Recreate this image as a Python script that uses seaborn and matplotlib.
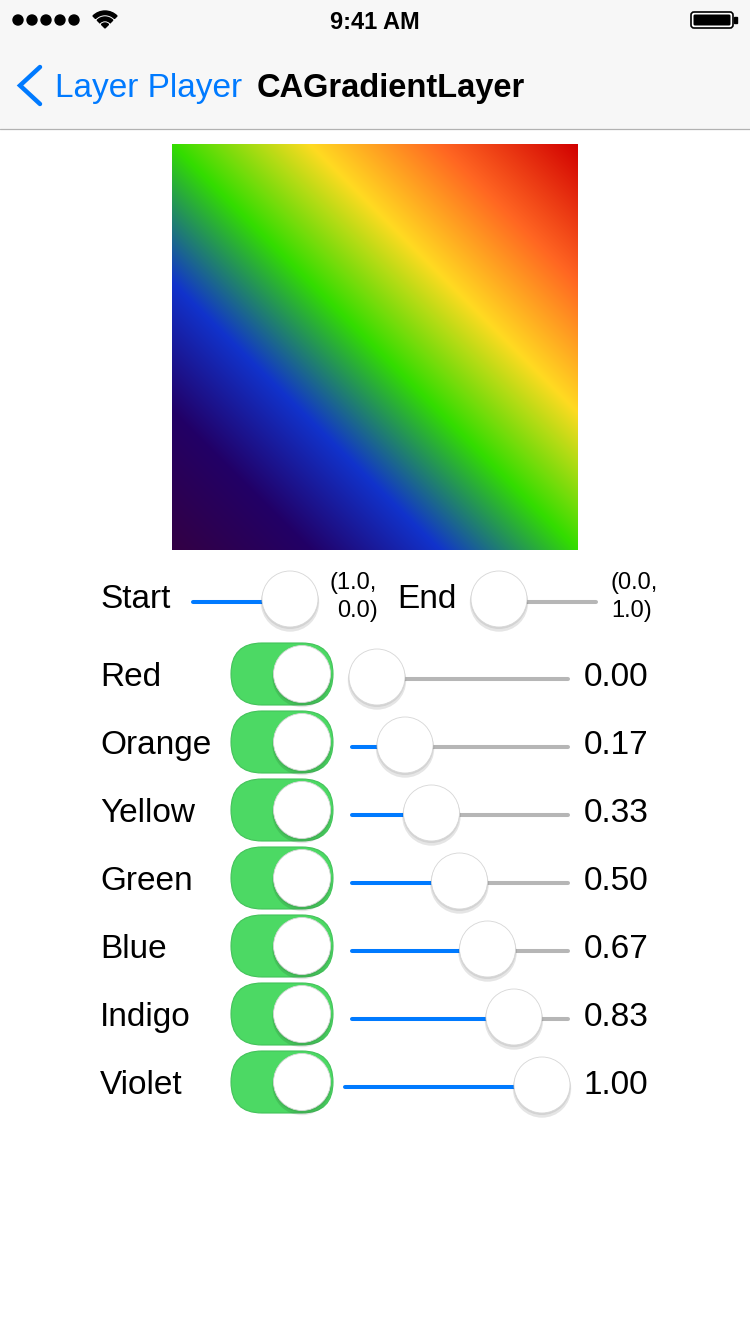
import numpy as np
import pandas as pd
import matplotlib
matplotlib.use("Agg")
import matplotlib.pyplot as plt
import seaborn as sns
from matplotlib.patches import Circle, FancyBboxPatch, Wedge, Rectangle

# datos de la pantalla
color_names = ["Red", "Orange", "Yellow", "Green", "Blue", "Indigo", "Violet"]
color_rgb = [(209, 0, 0), (255, 102, 34), (255, 218, 33), (51, 221, 0),
             (17, 51, 204), (34, 0, 102), (51, 0, 68)]
locations = [0.00, 0.17, 0.33, 0.50, 0.67, 0.83, 1.00]
enabled = [True, True, True, True, True, True, True]
start_point = (1.0, 0.0)
end_point = (0.0, 1.0)
start_slider = 1.0
end_slider = 0.0

BLUE = "#007AFF"
GRAY = "#B6B6B6"
GREEN = "#4CD964"
FONT = ["Liberation Sans", "DejaVu Sans"]

sns.set_style("white")
plt.rcParams["font.family"] = FONT
plt.rcParams["text.color"] = "black"

fig = plt.figure(figsize=(7.5, 13.34), dpi=100)
ax = fig.add_axes([0, 0, 1, 1])
ax.set_xlim(0, 750)
ax.set_ylim(1334, 0)
ax.axis("off")

# barra de estado y navegacion
ax.add_patch(Rectangle((0, 0), 750, 128, color="#F7F7F7", zorder=0))
ax.plot([0, 750], [128.5, 128.5], color="#B2B2B2", lw=0.9)
for i in range(5):
    ax.add_patch(Circle((18 + 14 * i, 20), 5.0, color="black"))
ax.add_patch(Wedge((105, 28), 17, 225, 315, width=3.6, color="black"))
ax.add_patch(Wedge((105, 28), 11, 225, 315, width=3.6, color="black"))
ax.add_patch(Wedge((105, 28), 5, 225, 315, color="black"))
ax.text(375, 20, "9:41 AM", fontsize=17, fontweight="semibold", ha="center", va="center_baseline")
ax.add_patch(FancyBboxPatch((691, 12), 42, 16, boxstyle="round,pad=0,rounding_size=3",
                            fc="white", ec="black", lw=1.2))
ax.add_patch(FancyBboxPatch((693.5, 14.5), 37, 11, boxstyle="round,pad=0,rounding_size=1.5",
                            fc="black", ec="none"))
ax.add_patch(Rectangle((734, 17), 3, 6, color="black"))

ax.plot([40, 20, 40], [67, 85.5, 104], color=BLUE, lw=3.2, solid_capstyle="round",
        solid_joinstyle="miter")
ax.text(55, 97, "Layer Player", fontsize=24, color=BLUE, ha="left", va="baseline")
ax.text(257, 97, "CAGradientLayer", fontsize=23.5, fontweight="bold", ha="left", va="baseline")

# capa de gradiente
n = 406
u, v = np.meshgrid(np.linspace(0, 1, n), np.linspace(0, 1, n))
d = np.array(end_point) - np.array(start_point)
t = ((u - start_point[0]) * d[0] + (v - start_point[1]) * d[1]) / (d @ d)
t = np.clip(t, 0, 1)
cols = np.array(color_rgb) / 255.0
img = np.dstack([np.interp(t, locations, cols[:, k]) for k in range(3)])
ax.imshow(img, extent=(172, 578, 550, 144), aspect="auto", interpolation="bilinear", zorder=1)
ax.set_xlim(0, 750)
ax.set_ylim(1334, 0)


def knob(x, y, r=28):
    ax.add_patch(Circle((x, y + 3.5), r + 1.2, color="black", alpha=0.10, lw=0, zorder=5))
    ax.add_patch(Circle((x, y + 1.5), r + 0.5, color="black", alpha=0.08, lw=0, zorder=5))
    ax.add_patch(Circle((x, y), r, fc="white", ec="#D6D6D6", lw=0.6, zorder=6))


def track(x0, x1, y, kx):
    df = pd.DataFrame({"x": [x0, kx, kx, x1], "y": [y] * 4, "p": ["a", "a", "b", "b"]})
    sns.lineplot(data=df, x="x", y="y", hue="p", palette={"a": BLUE, "b": GRAY},
                 lw=2.9, legend=False, ax=ax, zorder=3, estimator=None, sort=False)


# puntos inicio / fin
ax.text(100, 608, "Start", fontsize=24, ha="left", va="baseline")
sx = 218 + start_slider * 72
track(193, 315, 602, sx)
knob(sx, 599)
ax.text(377, 589.5, "(%.1f," % start_point[0], fontsize=17, ha="right", va="baseline")
ax.text(378, 617.5, "%.1f)" % start_point[1], fontsize=17, ha="right", va="baseline")

ax.text(397, 608, "End", fontsize=24, ha="left", va="baseline")
ex = 499 + end_slider * 72
track(474, 596, 602, ex)
knob(ex, 599)
ax.text(610, 589.5, "(%.1f," % end_point[0], fontsize=17, ha="left", va="baseline")
ax.text(611, 617.5, "%.1f)" % end_point[1], fontsize=17, ha="left", va="baseline")

# filas de colores
for i, (name, loc, on) in enumerate(zip(color_names, locations, enabled)):
    y = 674 + 68 * i
    ax.text(100, y + 12, name, fontsize=24, ha="left", va="baseline")
    ax.add_patch(FancyBboxPatch((231, y - 31), 102, 62, boxstyle="round,pad=0,rounding_size=31",
                                fc=GREEN if on else "white", ec="#43C25A", lw=0.8, zorder=3))
    knob(302 if on else 262, y, 28.5)
    kx = 377 + loc * 165
    track(345 if loc == 1 else 352, 568, y + 5, kx)
    knob(kx, y + 3)
    ax.text(584, y + 12, "%.2f" % loc, fontsize=24, ha="left", va="baseline")

fig.savefig("out.png", dpi=100)
